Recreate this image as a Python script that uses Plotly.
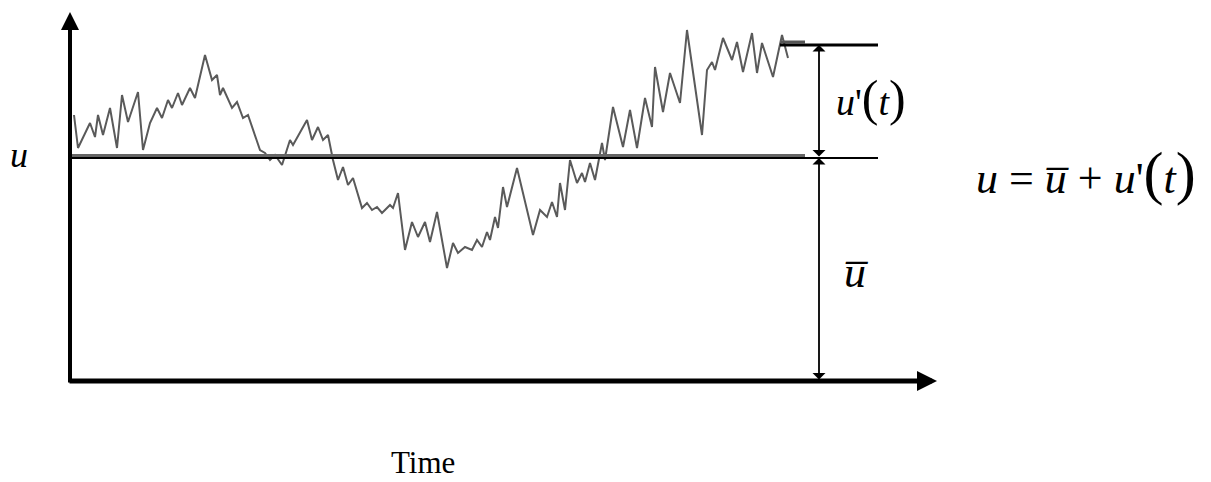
import plotly.graph_objects as go

# Signal (time units, velocity units)
time = [4, 8, 20, 25, 28, 33, 40, 47, 52, 58, 68, 73, 80, 87, 92, 98, 102, 108, 112, 120,
        125, 135, 142, 147, 150, 153, 162, 167, 173, 178, 190, 195, 200, 205, 212, 220, 223,
        230, 237, 242, 248, 253, 258, 263, 268, 273, 278, 283, 292, 297, 302, 307, 312, 320,
        323, 328, 335, 342, 348, 355, 360, 367, 377, 383, 388, 395, 402, 407, 412, 417, 420,
        425, 428, 433, 437, 447, 453, 463, 470, 477, 482, 487, 490, 495, 500, 507, 512, 515,
        520, 525, 532, 535, 543, 553, 560, 567, 575, 582, 585, 593, 600, 610, 617, 632, 637,
        642, 645, 653, 662, 667, 673, 682, 687, 692, 703, 712, 718]
u_signal = [266, 233, 258, 244, 266, 246, 273, 233, 286, 259, 289, 231, 258, 273, 263, 281, 273,
            288, 276, 293, 283, 326, 301, 306, 286, 293, 273, 279, 263, 266, 231, 228, 221, 226,
            216, 241, 236, 249, 261, 241, 254, 241, 246, 221, 201, 214, 196, 203, 173, 178, 171,
            174, 168, 176, 173, 188, 131, 159, 144, 159, 139, 169, 113, 138, 128, 134, 131, 141,
            134, 149, 141, 164, 153, 194, 174, 213, 189, 146, 171, 164, 179, 164, 198, 171, 221,
            198, 208, 199, 218, 201, 238, 221, 274, 234, 271, 233, 283, 254, 314, 269, 308, 278,
            351, 246, 311, 319, 311, 343, 321, 339, 309, 348, 308, 338, 304, 346, 323]

u_mean = 223          # mean velocity level
u_top = 336           # level used to mark the fluctuation u'(t)
t_mean_end = 808
t_gray_end = 735
t_marker = 749        # position of the dimension arrows
t_axis_end = 867
u_axis_end = 369

fig = go.Figure()

# signal
fig.add_trace(go.Scatter(x=time, y=u_signal, mode="lines",
                         line=dict(color="#5a5a5a", width=2), hoverinfo="skip"))
# mean lines (gray thick + black thin)
fig.add_trace(go.Scatter(x=[0, t_gray_end], y=[u_mean + 2.5, u_mean + 2.5], mode="lines",
                         line=dict(color="#666666", width=3), hoverinfo="skip"))
fig.add_trace(go.Scatter(x=[0, t_mean_end], y=[u_mean, u_mean], mode="lines",
                         line=dict(color="black", width=2), hoverinfo="skip"))
# top line
fig.add_trace(go.Scatter(x=[711, t_gray_end], y=[u_top + 3, u_top + 3], mode="lines",
                         line=dict(color="#555555", width=3), hoverinfo="skip"))
fig.add_trace(go.Scatter(x=[710, t_mean_end], y=[u_top, u_top], mode="lines",
                         line=dict(color="black", width=3), hoverinfo="skip"))

ann = []
# axes arrows
ann.append(dict(x=0, y=u_axis_end, ax=0, ay=-3, xref="x", yref="y", axref="x", ayref="y",
                text="", showarrow=True, arrowhead=2, arrowwidth=4, arrowsize=0.9,
                arrowcolor="black"))
ann.append(dict(x=t_axis_end, y=0, ax=-2, ay=0, xref="x", yref="y", axref="x", ayref="y",
                text="", showarrow=True, arrowhead=2, arrowwidth=5, arrowsize=0.8,
                arrowcolor="black"))
# dimension arrows
ann.append(dict(x=t_marker, y=u_top, ax=t_marker, ay=u_mean, xref="x", yref="y",
                axref="x", ayref="y", text="", showarrow=True, arrowhead=1, startarrowhead=1,
                arrowside="end+start", arrowwidth=1.8, arrowsize=1.2, startarrowsize=1.2,
                arrowcolor="black"))
ann.append(dict(x=t_marker, y=u_mean, ax=t_marker, ay=0, xref="x", yref="y",
                axref="x", ayref="y", text="", showarrow=True, arrowhead=1, startarrowhead=1,
                arrowside="end+start", arrowwidth=1.8, arrowsize=1.2, startarrowsize=1.2,
                arrowcolor="black"))

serif = "Liberation Serif"
ann.append(dict(x=-51, y=226, xref="x", yref="y", text="<i>u</i>", showarrow=False,
                font=dict(family=serif, size=36, color="black")))
ann.append(dict(x=353, y=-101, xref="x", yref="y", yanchor="bottom", text="Time",
                showarrow=False, font=dict(family=serif, size=31, color="black")))
ann.append(dict(x=801, y=283, xref="x", yref="y",
                text="<i>u</i>'<span style='font-size:50px'>(</span><i>t</i><span style='font-size:50px'>)</span>",
                showarrow=False, font=dict(family=serif, size=38, color="black")))
ann.append(dict(x=786, y=109, xref="x", yref="y", text="<i>u\u0305</i>", showarrow=False,
                font=dict(family=serif, size=44, color="black")))
ann.append(dict(x=1016, y=208, xref="x", yref="y",
                text="<i>u</i> = <i>u\u0305</i> + <i>u</i>'<span style='font-size:60px'>(</span><i>t</i><span style='font-size:60px'>)</span>",
                showarrow=False, font=dict(family=serif, size=44, color="black")))

# page has an 8px body margin: figure spans page pixels 8..1211 x 8..482
fig.update_layout(
    width=1203, height=474, autosize=False,
    margin=dict(l=0, r=0, t=0, b=0),
    paper_bgcolor="white", plot_bgcolor="white",
    showlegend=False,
    xaxis=dict(range=[-62, 1141], visible=False, fixedrange=True),
    yaxis=dict(range=[-101, 373], visible=False, fixedrange=True),
    annotations=ann,
)

fig.write_html("out.html")
